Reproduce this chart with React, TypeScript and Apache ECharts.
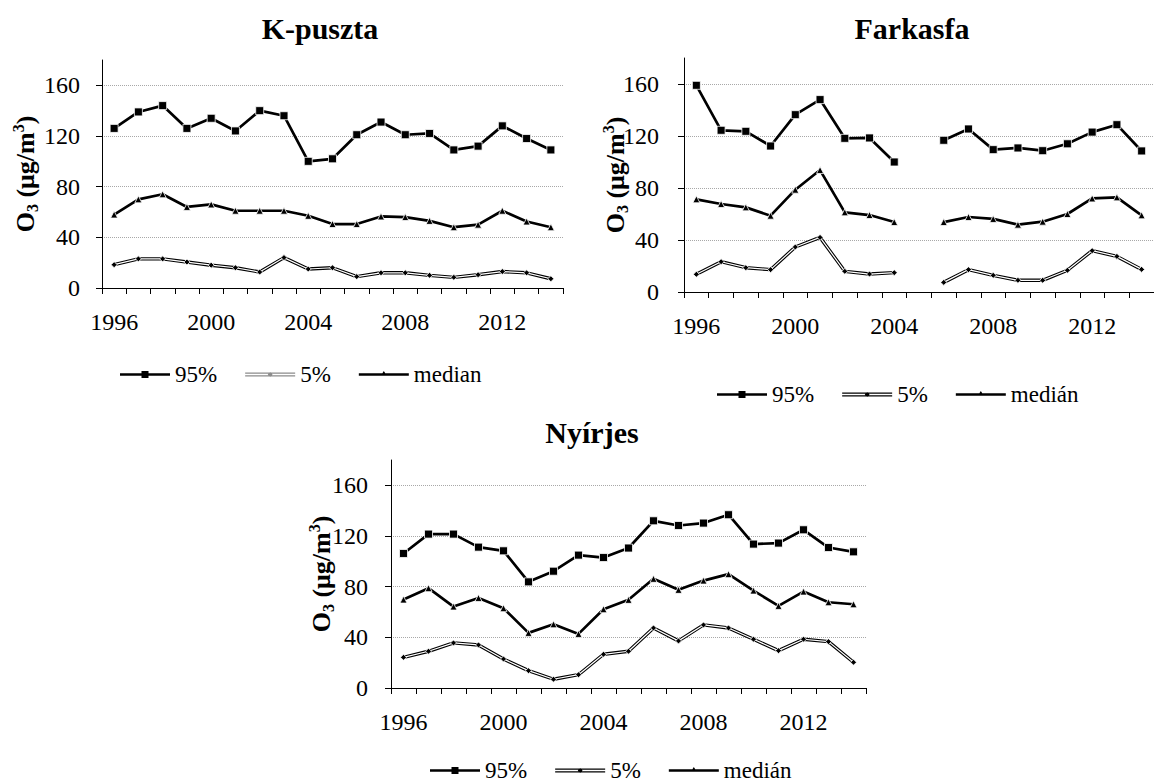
import React, { useEffect, useRef } from 'react';
import * as echarts from 'echarts';

const years = ['1996','1997','1998','1999','2000','2001','2002','2003','2004','2005','2006','2007','2008','2009','2010','2011','2012','2013','2014'];
const yTicks = [0, 40, 80, 120, 160];

const kp95 = [126,139,144,126,134,124,140,136,100,102,121,131,121,122,109,112,128,118,109];
const kpMed = [58,70,74,64,66,61,61,61,57,50.5,50.5,56.5,56,53,48,50,61,52.5,48];
const kp5 = [18.4,23,23,20.5,18,16,12.6,24,15,16,9,12,12,10,8.4,10.5,13,12,7.3];

const fk95 = [159,124.4,123.6,112.3,136.4,148,118.2,118.5,100,null,116.7,125.4,109.5,110.8,108.7,114,123,128.7,108.5];
const fkMed = [71.3,67.7,65.1,58.7,78.7,93.8,61.3,59.2,53.8,null,53.8,57.7,56.2,51.8,54.1,60,72,72.8,59];
const fk5 = [13.6,23.3,18.7,17.2,34.6,42,15.9,13.8,14.9,null,7.4,17.2,12.8,9,9,16.7,31.8,27.4,17.4];

const ny95 = [106.2,121.5,121.5,111.2,108.3,83.8,92.2,104.9,103,110.5,132,128.3,130.2,136.8,113.6,114.4,124.9,110.9,107.5];
const nyMed = [69.8,78.8,64.3,71.1,63,43.5,50.3,42.7,62.2,69.6,86.2,77.5,84.8,89.9,76.9,64.8,76.1,67.7,66.1];
const ny5 = [24.2,29,35.6,34,22.9,13.7,6.9,10.5,26.6,29,47.4,37.2,49.8,47.4,38.5,29.5,38.5,36.6,20.3];

const titles = ['K-puszta', 'Farkasfa', 'Nyírjes'];
const medianNames = ['median', 'medián', 'medián'];

const FONT = 'Liberation Serif, Times New Roman, Tinos, DejaVu Serif, Noto Serif, serif';

const CORNERS = 'M0,0L0.01,0L0,0.01Z M50,10L49.99,10L50,9.99Z ';
const ICON95 = 'path://' + CORNERS + 'M0,3.7L50,3.7L50,6.3L0,6.3Z M21.5,1.5L28.5,1.5L28.5,8.5L21.5,8.5Z';
const ICON5 = 'path://' + CORNERS + 'M0,3.1L50,3.1L50,4.3L0,4.3Z M0,5.7L50,5.7L50,6.9L0,6.9Z M25,2.6L27.4,5L25,7.4L22.6,5Z';
const ICONMED = 'path://' + CORNERS + 'M0,3.7L50,3.7L50,6.3L0,6.3Z M25,1.6L28,6.3L22,6.3Z';

const grids = [
  { left: 102, top: 60, width: 461, height: 228 },
  { left: 684, top: 58, width: 475, height: 234 },
  { left: 391, top: 460, width: 475, height: 228 },
];
const nameGaps = [62, 54, 55];
const yLabelMargins = [22, 25, 23];
const titlePos = [[320, 28], [912, 28], [592, 432]];
const legendPos = [[115, 358], [712, 378], [425, 754]];

export default function App() {
  const ref = useRef<HTMLDivElement>(null);
  useEffect(() => {
    if (!ref.current) return;
    const chart = echarts.init(ref.current, undefined, { renderer: 'svg' });
    const sets = [
      [kp95, kp5, kpMed],
      [fk95, fk5, fkMed],
      [ny95, ny5, nyMed],
    ];
    const series: any[] = [];
    sets.forEach((s, i) => {
      const [d95, d5, dMed] = s;
      series.push({
        type: 'line', name: '5%', xAxisIndex: i, yAxisIndex: i, data: d5,
        symbol: 'none', lineStyle: { color: '#000', width: 3.4 }, z: 2,
      });
      series.push({
        type: 'line', name: '5%-inner-' + i, xAxisIndex: i, yAxisIndex: i, data: d5,
        symbol: 'diamond', symbolSize: 6,
        lineStyle: { color: '#fff', width: 1.2 },
        itemStyle: { color: '#000', borderColor: '#fff', borderWidth: 0.8 }, z: 3,
      });
      series.push({
        type: 'line', name: medianNames[i], xAxisIndex: i, yAxisIndex: i, data: dMed,
        symbol: 'triangle', symbolSize: 7,
        lineStyle: { color: '#000', width: 2.7 },
        itemStyle: { color: '#000', borderColor: '#fff', borderWidth: 0.8 }, z: 4,
      });
      series.push({
        type: 'line', name: '95%', xAxisIndex: i, yAxisIndex: i, data: d95,
        symbol: 'rect', symbolSize: 8,
        lineStyle: { color: '#000', width: 2.7 },
        itemStyle: { color: '#000', borderColor: '#fff', borderWidth: 0.8 }, z: 5,
      });
    });

    const option: any = {
      animation: false,
      backgroundColor: '#fff',
      textStyle: { fontFamily: FONT },
      grid: grids.map(g => ({ ...g, containLabel: false })),
      xAxis: grids.map((_, i) => ({
        type: 'category', gridIndex: i, data: years, boundaryGap: true,
        axisLine: { show: true, lineStyle: { color: '#000', width: 1 } },
        axisTick: { show: true, interval: 0, length: 6, lineStyle: { color: '#000' } },
        axisLabel: { interval: 3, margin: 22, fontSize: 24, color: '#000', fontFamily: FONT },
        splitLine: { show: false },
      })),
      yAxis: grids.map((_, i) => ({
        type: 'value', gridIndex: i, min: 0, max: 180, interval: 40,
        axisLine: { show: true, lineStyle: { color: '#000', width: 1 } },
        axisTick: { show: true, length: 6, customValues: yTicks, lineStyle: { color: '#000' } },
        axisLabel: { customValues: yTicks, margin: yLabelMargins[i], fontSize: 24, color: '#000', fontFamily: FONT },
        splitLine: { show: true, lineStyle: { color: '#a8a8a8', type: 'dotted', width: 1 } },
        name: '{b|O}{s|3}{b| (μg/m}{p|3}{b|)}',
        nameLocation: 'middle', nameRotate: 90, nameGap: nameGaps[i], nameMoveOverlap: false,
        nameTextStyle: {
          fontFamily: FONT, fontWeight: 'bold', fontSize: 26, color: '#000',
          rich: {
            b: { fontFamily: FONT, fontWeight: 'bold', fontSize: 26, lineHeight: 30, color: '#000' },
            s: { fontFamily: FONT, fontWeight: 'bold', fontSize: 16, lineHeight: 16, verticalAlign: 'bottom', color: '#000' },
            p: { fontFamily: FONT, fontWeight: 'bold', fontSize: 16, lineHeight: 16, verticalAlign: 'top', color: '#000' },
          },
        },
      })),
      legend: legendPos.map((p, i) => ({
        left: p[0], top: p[1], orient: 'horizontal',
        itemWidth: 50, itemHeight: 10, itemGap: 28,
        selectedMode: false,
        textStyle: { fontFamily: FONT, fontSize: 23, color: '#000' },
        data: [
          { name: '95%', icon: ICON95, itemStyle: { color: '#000', borderWidth: 0 } },
          { name: '5%', icon: ICON5, itemStyle: { color: i === 0 ? '#8c8c8c' : '#000', borderWidth: 0 } },
          { name: medianNames[i], icon: ICONMED, itemStyle: { color: '#000', borderWidth: 0 } },
        ],
      })),
      graphic: titles.map((t, i) => ({
        type: 'text', x: titlePos[i][0], y: titlePos[i][1],
        style: {
          text: t, align: 'center', verticalAlign: 'middle',
          fontFamily: FONT, fontWeight: 'bold', fontSize: 30, fill: '#000',
        },
      })),
      series,
    };
    chart.setOption(option);
    return () => chart.dispose();
  }, []);
  return (
    <div
      ref={ref}
      style={{ position: 'absolute', left: 0, top: 0, width: 1154, height: 783, background: '#fff' }}
    />
  );
}
